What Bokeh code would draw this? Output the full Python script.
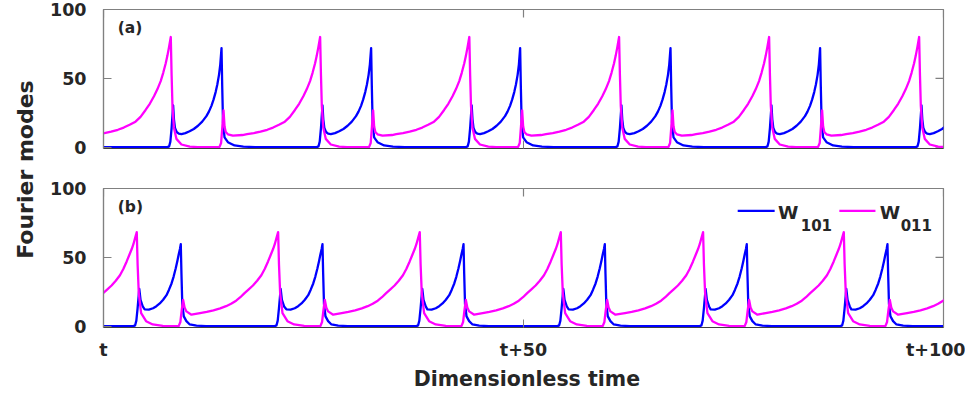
import math
from bokeh.plotting import figure
from bokeh.models import Range1d, FixedTicker, Label
from bokeh.layouts import row, column
from bokeh.embed import file_html
from bokeh.resources import INLINE

# ---------------------------------------------------------------------------
# Data: the two Fourier modes oscillate in a relaxation cycle.  Each series is
# built from the times of its spikes and the shape of the curve around them
# (offset from the spike in dimensionless time, mode amplitude).
# ---------------------------------------------------------------------------

# panel (a): spike times of each mode
a_w011_peaks = [-9.81, 8.01, 25.79, 43.55, 61.38, 79.24, 97.10]
a_w101_peaks = [-3.77, 14.05, 31.86, 49.60, 67.50, 85.31, 103.13]

# W011 in (a): slow growth up to its own peak, sharp collapse, kick from W101
a_w011_rise_t = [-8.7, -7.9, -7.1, -6.3, -5.6, -4.9, -4.2, -3.6, -3.0, -2.5,
                 -2.0, -1.6, -1.2, -0.9, -0.6, -0.4, -0.2, 0.0]
a_w011_rise_v = [9.4, 10.2, 11.2, 12.6, 14.2, 16.2, 18.5, 22.0, 27.0, 31.5,
                 37.0, 42.0, 48.0, 54.0, 61.0, 66.5, 73.0, 80.0]
a_w011_fall_t = [0.1, 0.2, 0.37, 0.67, 1.27, 2.26, 3.2]
a_w011_fall_v = [52.0, 30.0, 14.3, 6.0, 1.9, 0.3, 0.0]
a_w011_kick_t = [-0.25, -0.05, 0.1, 0.24, 0.36, 0.5, 0.76, 1.35, 2.5]
a_w011_kick_v = [0.0, 3.0, 15.0, 26.7, 15.0, 11.0, 9.3, 8.3, 8.8]

# W101 in (a)
a_w101_kick_t = [-0.4, -0.2, -0.05, 0.1, 0.28, 0.38, 0.5, 0.7, 0.95, 1.27]
a_w101_kick_v = [0.0, 0.5, 4.0, 14.0, 30.3, 20.0, 14.0, 11.0, 9.8, 9.5]
a_w101_rise_t = [-4.3, -3.8, -3.3, -2.8, -2.3, -1.8, -1.5, -1.2, -0.95, -0.7,
                 -0.5, -0.3, -0.15, 0.0]
a_w101_rise_v = [10.2, 11.5, 13.2, 15.5, 18.5, 22.5, 25.8, 30.0, 34.5, 40.0,
                 45.5, 52.5, 60.0, 72.0]
a_w101_fall_t = [0.08, 0.18, 0.36, 0.76, 1.55, 2.6, 4.0]
a_w101_fall_v = [45.0, 18.0, 7.1, 3.6, 1.2, 0.3, 0.0]

# panel (b): spike times of each mode
b_w011_peaks = [-12.87, 3.96, 20.79, 37.65, 54.44, 71.38, 88.13, 104.96]
b_w101_peaks = [-7.63, 9.20, 26.07, 42.86, 59.68, 76.58, 93.33]

# W011 in (b)
b_w011_rise_t = [-9.3, -8.5, -7.7, -6.9, -6.2, -5.6, -5.0, -4.5, -4.0, -3.5,
                 -3.0, -2.5, -2.0, -1.6, -1.2, -0.9, -0.6, -0.4, -0.2, 0.0]
b_w011_rise_v = [9.5, 10.4, 11.5, 12.9, 14.5, 16.2, 18.5, 21.0, 24.0, 26.7,
                 29.5, 33.0, 37.0, 41.5, 47.0, 51.5, 56.0, 59.5, 64.0, 68.3]
b_w011_fall_t = [0.1, 0.24, 0.52, 1.11, 1.9, 3.1, 4.0]
b_w011_fall_v = [45.0, 23.8, 9.5, 3.6, 1.2, 0.2, 0.0]
b_w011_kick_t = [-0.25, -0.05, 0.12, 0.28, 0.45, 0.67, 1.27]
b_w011_kick_v = [0.0, 3.0, 12.0, 19.0, 13.5, 10.7, 8.3]

# W101 in (b)
b_w101_kick_t = [-0.4, -0.2, -0.05, 0.1, 0.3, 0.45, 0.71]
b_w101_kick_v = [0.0, 0.5, 4.0, 13.0, 27.0, 19.0, 14.3]
b_w101_rise_t = [-4.3, -3.8, -3.3, -2.9, -2.5, -2.1, -1.7, -1.4, -1.1, -0.85,
                 -0.6, -0.4, -0.25, -0.1, 0.0]
b_w101_rise_v = [12.2, 12.0, 13.0, 14.5, 16.5, 19.2, 22.5, 26.5, 31.0, 36.0,
                 42.0, 47.5, 52.0, 56.0, 59.5]
b_w101_fall_t = [0.08, 0.18, 0.36, 0.67, 1.07, 1.87, 3.0]
b_w101_fall_v = [38.0, 16.0, 7.1, 3.6, 1.2, 0.3, 0.0]

x_ticks = [0, 50, 100]
x_tick_labels = ["t", "t+50", "t+100"]
y_ticks = [0, 50, 100]

BLUE = "#0000FF"
MAGENTA = "#FF00FF"
TEXT = "#262626"
FRAME = "#808080"
FONT = "DejaVu Sans"


def assemble(pieces):
    """Place each curve segment at its spike times and join them in time order."""
    pts = []
    for times, offs, vals in pieces:
        for t0 in times:
            for o, v in zip(offs, vals):
                pts.append((t0 + o, v))
    pts.sort()
    return [p[0] for p in pts], [p[1] for p in pts]


a_w101 = assemble([(a_w011_peaks, a_w101_kick_t, a_w101_kick_v),
                   (a_w101_peaks, a_w101_rise_t, a_w101_rise_v),
                   (a_w101_peaks, a_w101_fall_t, a_w101_fall_v)])
a_w011 = assemble([(a_w011_peaks, a_w011_rise_t, a_w011_rise_v),
                   (a_w011_peaks, a_w011_fall_t, a_w011_fall_v),
                   (a_w101_peaks, a_w011_kick_t, a_w011_kick_v)])
b_w101 = assemble([(b_w011_peaks, b_w101_kick_t, b_w101_kick_v),
                   (b_w101_peaks, b_w101_rise_t, b_w101_rise_v),
                   (b_w101_peaks, b_w101_fall_t, b_w101_fall_v)])
b_w011 = assemble([(b_w011_peaks, b_w011_rise_t, b_w011_rise_v),
                   (b_w011_peaks, b_w011_fall_t, b_w011_fall_v),
                   (b_w101_peaks, b_w011_kick_t, b_w011_kick_v)])


def style_axis(axis, ticks, line_color):
    axis.ticker = FixedTicker(ticks=ticks)
    axis.major_tick_in = 8
    axis.major_tick_out = 0
    axis.minor_tick_line_color = None
    axis.major_tick_line_color = FRAME
    axis.axis_line_color = line_color
    axis.axis_line_width = 1.2
    axis.major_label_text_font = FONT
    axis.major_label_text_font_style = "bold"
    axis.major_label_text_font_size = "17.5px"
    axis.major_label_text_color = TEXT


def panel(height, top, frame_h, tag, show_x_labels):
    p = figure(width=925, height=height,
               x_range=Range1d(0, 100), y_range=Range1d(-1, 100),
               output_backend="svg", toolbar_location=None,
               min_border_left=63, min_border_right=22,
               min_border_top=top, min_border_bottom=height - top - frame_h)
    p.outline_line_color = FRAME
    p.outline_line_width = 1.2
    p.grid.visible = False
    p.background_fill_color = "white"
    p.border_fill_color = "white"

    ya = p.yaxis[0]
    style_axis(ya, y_ticks, FRAME)
    ya.major_label_standoff = 17

    xa = p.xaxis[0]
    style_axis(xa, x_ticks, "#404040")
    xa.major_label_overrides = dict(zip(x_ticks, x_tick_labels))
    xa.major_label_standoff = 12
    if not show_x_labels:
        xa.major_label_text_color = None

    # inward ticks on the right and top edges of the box (half of each dash
    # is clipped away by the frame)
    p.scatter(x=[100] * len(y_ticks), y=y_ticks, marker="dash", size=16,
              line_color=FRAME, line_width=1.2)
    p.scatter(x=x_ticks, y=[100] * len(x_ticks), marker="dash", size=16,
              angle=math.pi / 2, line_color=FRAME, line_width=1.2)

    p.add_layout(Label(x=1.7, y=86.6, text=tag, text_font=FONT,
                       text_font_style="bold", text_font_size="15.5px",
                       text_color=TEXT, text_align="left",
                       text_baseline="middle"))
    return p


pa = panel(175, 9, 139, "(a)", False)
pa.line(a_w101[0], a_w101[1], line_color=BLUE, line_width=2.3, line_join="round")
pa.line(a_w011[0], a_w011[1], line_color=MAGENTA, line_width=2.3, line_join="round")

pb = panel(187, 13, 141, "(b)", True)
pb.line(b_w101[0], b_w101[1], line_color=BLUE, line_width=2.3, line_join="round")
pb.line(b_w011[0], b_w011[1], line_color=MAGENTA, line_width=2.3, line_join="round")

# legend of panel (b), with subscripted mode indices
for x0, x1, col, xw, xs, sub in [(75.5, 79.9, BLUE, 80.3, 83.0, "101"),
                                 (87.6, 91.9, MAGENTA, 92.4, 94.9, "011")]:
    pb.segment(x0=[x0], y0=[83.8], x1=[x1], y1=[83.8], line_color=col, line_width=2.3)
    pb.add_layout(Label(x=xw, y=82.4, text="W", text_font=FONT,
                        text_font_style="bold", text_font_size="18.5px",
                        text_color=TEXT, text_baseline="alphabetic"))
    pb.add_layout(Label(x=xs, y=73.8, text=sub, text_font=FONT,
                        text_font_style="bold", text_font_size="15px",
                        text_color=TEXT, text_baseline="alphabetic"))

# x axis title, in its own strip under panel (b)
xtitle = figure(width=925, height=33, x_range=Range1d(0, 1), y_range=Range1d(0, 1),
                x_axis_type=None, y_axis_type=None, output_backend="svg",
                toolbar_location=None, min_border=0)
xtitle.outline_line_color = None
xtitle.grid.visible = False
xtitle.add_layout(Label(x=0.504, y=0.485, text="Dimensionless time", text_font=FONT,
                        text_font_style="bold", text_font_size="20.5px",
                        text_color=TEXT, text_align="center",
                        text_baseline="middle"))

# shared y label to the left of both panels
lab = figure(width=40, height=395, x_range=Range1d(0, 1), y_range=Range1d(0, 1),
             x_axis_type=None, y_axis_type=None, output_backend="svg",
             toolbar_location=None, min_border=0)
lab.outline_line_color = None
lab.grid.visible = False
lab.add_layout(Label(x=0.63, y=0.572, text="Fourier modes", angle=math.pi / 2,
                     text_font=FONT, text_font_style="bold", text_font_size="22px",
                     text_color=TEXT, text_align="center", text_baseline="middle"))

layout = row(lab, column(pa, pb, xtitle))
open("out.html", "w").write(file_html(layout, INLINE))
